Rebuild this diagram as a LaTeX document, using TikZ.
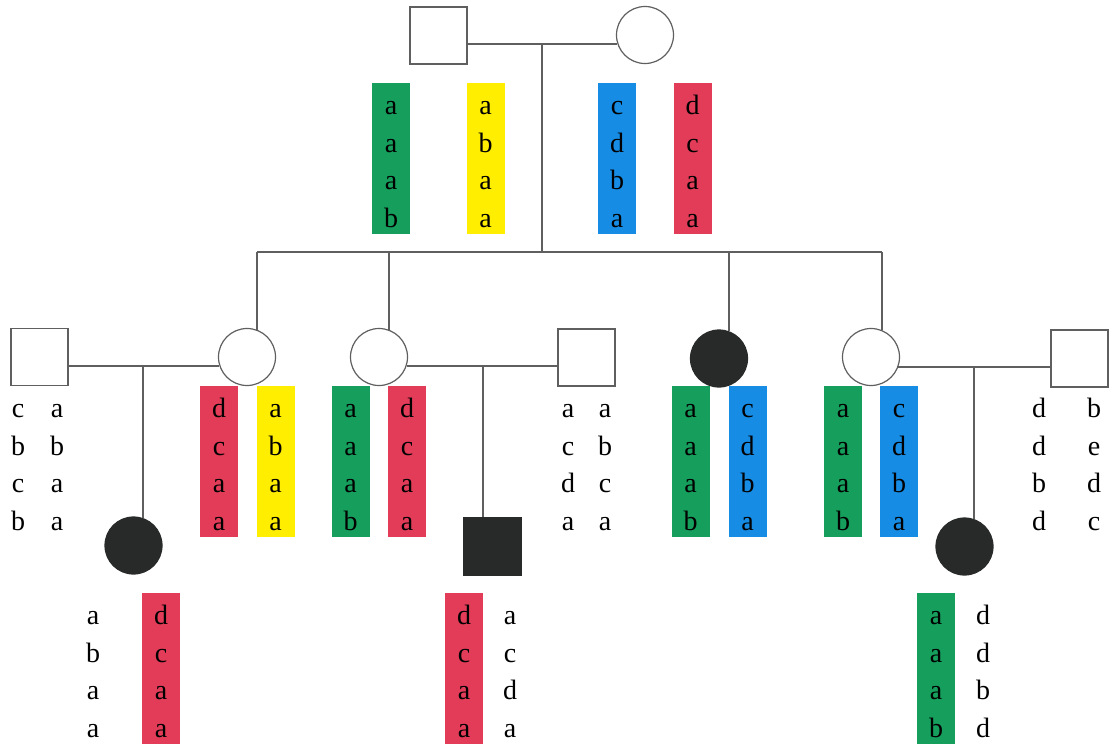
\documentclass[tikz,border=0pt]{standalone}
\usepackage{fontspec}
\setmainfont{Liberation Serif}
\definecolor{hgreen}{RGB}{22,158,92}
\definecolor{hyellow}{RGB}{255,238,0}
\definecolor{hblue}{RGB}{22,140,228}
\definecolor{hred}{RGB}{226,60,88}
\definecolor{lgray}{RGB}{95,95,95}
\definecolor{dfill}{RGB}{40,42,42}
\tikzset{
  ln/.style={draw=lgray, line width=1.2pt},
  male/.style={rectangle, draw=lgray, line width=1.2pt, minimum size=57pt, inner sep=0pt, fill=white},
  female/.style={circle, draw=lgray, line width=1.2pt, minimum size=57pt, inner sep=0pt, fill=white},
  aff/.style={fill=dfill, draw=dfill},
  hapbox/.style={rectangle, minimum width=38pt, minimum height=151pt, inner sep=0pt, draw=none},
  allele/.style={font=\fontsize{28}{30}\selectfont, inner sep=0pt, text=black},
}
% #1 name, #2 centre x, #3 top y, #4 colour (or none), #5 letters
\newcommand\hapcol[5]{%
  \node[hapbox, fill=#4, anchor=north] (#1) at ({#2},{#3}) {};
  \foreach \x [count=\i] in {#5}
    \node[allele, anchor=base] (#1-\i) at ({#2},{#3+31.5+(\i-1)*37.5}) {\x};
}
\begin{document}
\begin{tikzpicture}[x=1pt,y=-1pt]
\useasboundingbox (0,0) rectangle (1117,748);

% generation I
\node[male] (F) at (438.5,35.5) {};
\node[female] (M) at (645,35) {};
\coordinate (c0) at (542,44);
\coordinate (s0) at (542,252);
\draw[ln] (F.east |- M.198) -- (M.198);
\draw[ln] (c0) -- (s0);

\hapcol{F1}{391}{83}{hgreen}{a,a,a,b}
\hapcol{F2}{485.5}{83}{hyellow}{a,b,a,a}
\hapcol{M1}{617}{83}{hblue}{c,d,b,a}
\hapcol{M2}{692.5}{83}{hred}{d,c,a,a}

% generation II
\node[male] (H1) at (39.5,357) {};
\node[female] (W1) at (247,357) {};
\node[female] (W2) at (379,357) {};
\node[male] (H2) at (586.5,357.5) {};
\node[female, aff] (W3) at (719,358.5) {};
\node[female] (W4) at (871,357) {};
\node[male] (H4) at (1079.5,358.5) {};

\coordinate (t1) at (257,252);
\coordinate (t2) at (389,252);
\coordinate (t3) at (729,252);
\coordinate (t4) at (882,252);
\draw[ln] (t1) -- (t4);
\draw[ln] (t1) -- (t1 |- W1.70);
\draw[ln] (t2) -- (t2 |- W2.70);
\draw[ln] (t3) -- (t3 |- W3.70);
\draw[ln] (t4) -- (t4 |- W4.67);

\draw[ln] (H1.east |- W1.198) -- (W1.198);
\draw[ln] (W2.342) -- (H2.west |- W2.342);
\draw[ln] (W4.340) -- (H4.west |- W4.340);

\hapcol{H1a}{18}{386}{none}{c,b,c,b}
\hapcol{H1b}{57}{386}{none}{a,b,a,a}
\hapcol{W1a}{219}{386}{hred}{d,c,a,a}
\hapcol{W1b}{275.5}{386}{hyellow}{a,b,a,a}
\hapcol{W2a}{350.5}{386}{hgreen}{a,a,a,b}
\hapcol{W2b}{407}{386}{hred}{d,c,a,a}
\hapcol{H2a}{568}{386}{none}{a,c,d,a}
\hapcol{H2b}{605}{386}{none}{a,b,c,a}
\hapcol{W3a}{690.5}{386}{hgreen}{a,a,a,b}
\hapcol{W3b}{747.5}{386}{hblue}{c,d,b,a}
\hapcol{W4a}{843}{386}{hgreen}{a,a,a,b}
\hapcol{W4b}{899}{386}{hblue}{c,d,b,a}
\hapcol{H4a}{1039}{386}{none}{d,d,b,d}
\hapcol{H4b}{1094}{386}{none}{b,e,d,c}

% generation III
\node[female, aff] (C1) at (133.5,545.5) {};
\node[male, aff] (C2) at (492.5,546.5) {};
\node[female, aff] (C3) at (964.5,546.5) {};
\coordinate (d1) at (143,366);
\coordinate (d2) at (483,366);
\coordinate (d3) at (974,367);
\draw[ln] (d1) -- (d1 |- C1.70);
\draw[ln] (d2) -- (d2 |- C2.north);
\draw[ln] (d3) -- (d3 |- C3.70);

\hapcol{C1a}{93}{593}{none}{a,b,a,a}
\hapcol{C1b}{161}{593}{hred}{d,c,a,a}
\hapcol{C2a}{464}{593}{hred}{d,c,a,a}
\hapcol{C2b}{510}{593}{none}{a,c,d,a}
\hapcol{C3a}{936}{593}{hgreen}{a,a,a,b}
\hapcol{C3b}{983}{593}{none}{d,d,b,d}
\end{tikzpicture}
\end{document}
